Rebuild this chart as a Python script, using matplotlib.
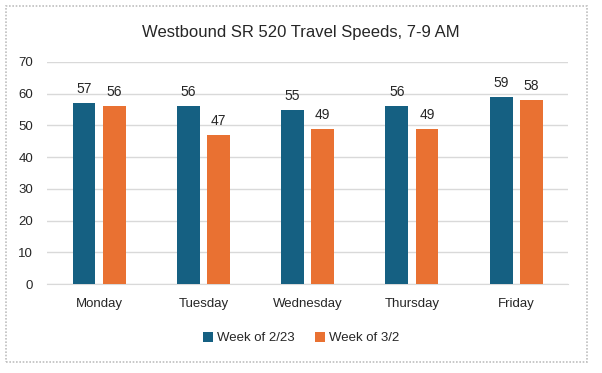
import matplotlib.pyplot as plt
from matplotlib.patches import Rectangle
import numpy as np

dias = ["Monday", "Tuesday", "Wednesday", "Thursday", "Friday"]
semana_2_23 = [57, 56, 55, 56, 59]
semana_3_2 = [56, 47, 49, 49, 58]
series_nomes = ["Week of 2/23", "Week of 3/2"]
yticks = [0, 10, 20, 30, 40, 50, 60, 70]

cor_azul = "#156082"
cor_laranja = "#E97132"

plt.rcParams['font.family'] = ['Liberation Sans Narrow', 'Liberation Sans', 'DejaVu Sans']

fig = plt.figure(figsize=(6.02, 3.73), dpi=100)
ax = fig.add_axes([0.078, 0.2386, 0.866, 0.5954])

x = np.arange(len(dias))
w = 0.22
gap = 0.035
b1 = ax.bar(x - w / 2 - gap, semana_2_23, w, color=cor_azul, label=series_nomes[0], zorder=3)
b2 = ax.bar(x + w / 2 + gap, semana_3_2, w, color=cor_laranja, label=series_nomes[1], zorder=3)

for barras in (b1, b2):
    ax.bar_label(barras, padding=5, fontsize=10, color="#262626")

ax.set_ylim(0, 70)
ax.set_xlim(-0.5, len(dias) - 0.5)
ax.set_yticks(yticks)
ax.set_xticks(x)
ax.set_xticklabels(dias)
ax.tick_params(axis='both', length=0, labelsize=9.5, colors="#262626")
ax.tick_params(axis='x', pad=10)
ax.tick_params(axis='y', pad=10)
ax.grid(axis='y', color="#d9d9d9", linewidth=1, zorder=0)
for lado in ["top", "right", "left"]:
    ax.spines[lado].set_visible(False)
ax.spines["bottom"].set_color("#d9d9d9")

fig.text(0.5, 0.914, "Westbound SR 520 Travel Speeds, 7-9 AM", ha="center", va="center",
         fontsize=12, color="#262626")

fig.legend(loc="center", bbox_to_anchor=(0.5, 0.094), ncol=2, frameon=False,
           fontsize=9.5, handlelength=0.8, handleheight=0.8, handletextpad=0.3,
           columnspacing=1.5, labelcolor="#262626")

borda = Rectangle((6 / 602, 1 - 362 / 373), 581 / 602, 356 / 373, transform=fig.transFigure,
                  fill=False, edgecolor="#bfbfbf", linestyle=(0, (1, 1)), linewidth=1.2)
fig.patches.append(borda)

fig.savefig("out.png", dpi=100)
